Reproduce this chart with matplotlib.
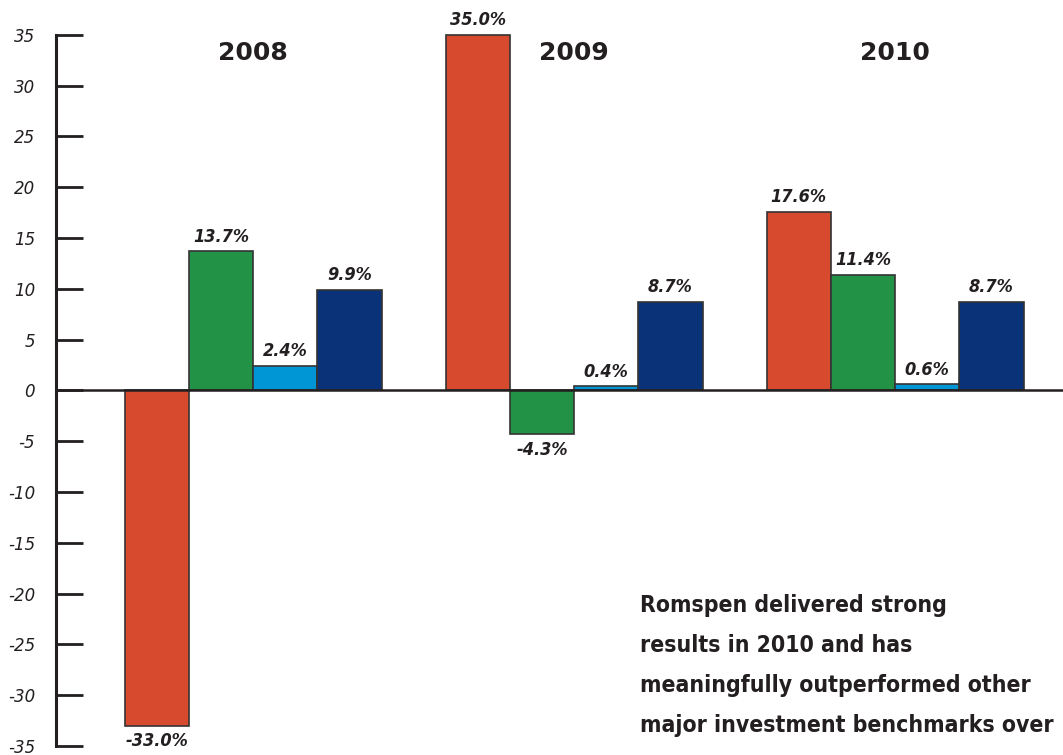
import matplotlib.pyplot as plt
import numpy as np

years = ['2008', '2009', '2010']
romspen = [-33.0, 35.0, 17.6]
series_b = [13.7, -4.3, 11.4]
series_c = [2.4, 0.4, 0.6]
series_d = [9.9, 8.7, 8.7]
colors = ['#d84a2e', '#229346', '#0096d6', '#0a3278']
yticks = list(range(-35, 40, 5))

note = ('Romspen delivered strong\n'
        'results in 2010 and has\n'
        'meaningfully outperformed other\n'
        'major investment benchmarks over')

fig = plt.figure(figsize=(10.63, 7.55), dpi=100)
ax = fig.add_axes([56 / 1063, 0, 1 - 56 / 1063, 1])

x = np.arange(len(years))
w = 0.2
ink = '#231f20'
for i, vals in enumerate([romspen, series_b, series_c, series_d]):
    xs = x + (i - 1.5) * w
    ax.bar(xs, vals, width=w, color=colors[i], edgecolor='#333333', linewidth=1.2, zorder=2)
    for xi, v in zip(xs, vals):
        off = 4 if v >= 0 else -5
        ax.annotate('{:.1f}%'.format(v), (xi, v), xytext=(0, off), textcoords='offset points',
                    ha='center', va='bottom' if v >= 0 else 'top',
                    fontsize=13, fontweight='bold', fontstyle='italic',
                    fontstretch='condensed', color=ink)

for xi, yr in zip(x, years):
    ax.text(xi, 33.2, yr, ha='center', va='center', fontsize=18, fontweight='bold', color=ink)

ax.axhline(0, color=ink, linewidth=1.8, zorder=3)
ax.set_xlim(-0.614, 2.523)
ax.set_ylim(-35.9, 38.44)
ax.set_yticks(yticks)
ax.set_yticklabels([str(t) for t in yticks], fontstyle='italic', fontsize=12, color=ink)
ax.tick_params(axis='y', direction='in', length=19.5, width=2, color=ink, pad=15)
ax.set_xticks([])
for s in ['top', 'right', 'bottom']:
    ax.spines[s].set_visible(False)
ax.spines['left'].set_bounds(-35, 35)
ax.spines['left'].set_linewidth(2.2)
ax.spines['left'].set_color(ink)

fig.text(640 / 1063, 1 - 594 / 755, note, ha='left', va='top', fontsize=16.5,
         fontweight='bold', fontstretch='condensed', family='DejaVu Sans',
         color=ink, linespacing=1.95)

plt.savefig('out.png', dpi=100)
